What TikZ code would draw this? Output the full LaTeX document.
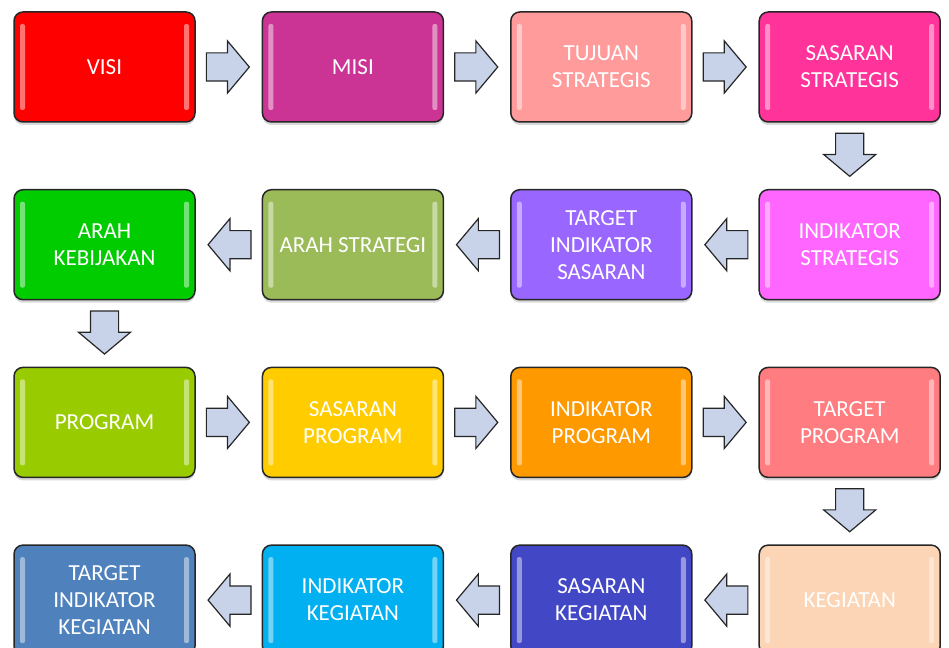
\documentclass[tikz,border=0pt]{standalone}
\usepackage{fontspec}
\setmainfont{Carlito}
\usetikzlibrary{calc}
\usetikzlibrary{shapes.arrows}
\usetikzlibrary{shadows}

\definecolor{cVisi}{HTML}{FF0000}
\definecolor{cMisi}{HTML}{CB3494}
\definecolor{cTujuan}{HTML}{FF9B9B}
\definecolor{cSasStr}{HTML}{FF3399}
\definecolor{cIndStr}{HTML}{FF66FF}
\definecolor{cTarSas}{HTML}{9966FF}
\definecolor{cArahStr}{HTML}{9BBB59}
\definecolor{cArahKeb}{HTML}{00CC00}
\definecolor{cProg}{HTML}{99CC00}
\definecolor{cSasProg}{HTML}{FFCC00}
\definecolor{cIndProg}{HTML}{FF9900}
\definecolor{cTarProg}{HTML}{FF7C80}
\definecolor{cKeg}{HTML}{FBD5B5}
\definecolor{cSasKeg}{HTML}{4247C5}
\definecolor{cIndKeg}{HTML}{00B0F0}
\definecolor{cTarKeg}{HTML}{4F81BD}
\definecolor{arrowfill}{HTML}{C8D3EA}

\begin{document}
\begin{tikzpicture}[x=1pt,y=-1pt,
  box/.style={draw=black!85,line width=1.5pt,rounded corners=9pt,
    minimum width=181pt,minimum height=110pt,text=white,align=center,
    font=\fontsize{23}{27}\selectfont,
    drop shadow={opacity=0.3,shadow xshift=0pt,shadow yshift=-3pt},
    path picture={
      \fill[white,opacity=0.45,rounded corners=2pt]
        ([xshift=6pt,yshift=-12pt]path picture bounding box.north west) rectangle
        ([xshift=11pt,yshift=12pt]path picture bounding box.south west);
      \fill[white,opacity=0.45,rounded corners=2pt]
        ([xshift=-6pt,yshift=-12pt]path picture bounding box.north east) rectangle
        ([xshift=-11pt,yshift=12pt]path picture bounding box.south east);
    }},
  go/.style={single arrow,draw=black!85,line width=1.2pt,fill=arrowfill,
    inner sep=13.5pt,minimum height=43pt,anchor=tail,
    single arrow head extend=12pt,single arrow tip angle=100}]
  % Constants
  \pgfmathsetmacro\ca{104.5}
  \pgfmathsetmacro\cb{352.9}
  \pgfmathsetmacro\cc{601.3}
  \pgfmathsetmacro\cd{849.7}
  \pgfmathsetmacro\ra{67}
  \pgfmathsetmacro\rb{244.7}
  \pgfmathsetmacro\rc{422.4}
  \pgfmathsetmacro\rd{600.1}
  \pgfmathsetmacro\gap{10}
  % Boundary
  \path[use as bounding box] (0,0) rectangle (949,647);
  \clip (0,0) rectangle (949,647);
  % Row one
  \node[box,fill=cVisi] (visi) at (\ca,\ra) {VISI};
  \node[box,fill=cMisi] (misi) at (\cb,\ra) {MISI};
  \node[box,fill=cTujuan] (tujuan) at (\cc,\ra) {TUJUAN\\STRATEGIS};
  \node[box,fill=cSasStr] (sasstr) at (\cd,\ra) {SASARAN\\STRATEGIS};
  % Row two
  \node[box,fill=cIndStr] (indstr) at (\cd,\rb) {INDIKATOR\\STRATEGIS};
  \node[box,fill=cTarSas] (tarsas) at (\cc,\rb) {TARGET\\INDIKATOR\\SASARAN};
  \node[box,fill=cArahStr] (arahstr) at (\cb,\rb) {ARAH STRATEGI};
  \node[box,fill=cArahKeb] (arahkeb) at (\ca,\rb) {ARAH\\KEBIJAKAN};
  % Row three
  \node[box,fill=cProg] (prog) at (\ca,\rc) {PROGRAM};
  \node[box,fill=cSasProg] (sasprog) at (\cb,\rc) {SASARAN\\PROGRAM};
  \node[box,fill=cIndProg] (indprog) at (\cc,\rc) {INDIKATOR\\PROGRAM};
  \node[box,fill=cTarProg] (tarprog) at (\cd,\rc) {TARGET\\PROGRAM};
  % Row four
  \node[box,fill=cKeg] (keg) at (\cd,\rd) {KEGIATAN};
  \node[box,fill=cSasKeg] (saskeg) at (\cc,\rd) {SASARAN\\KEGIATAN};
  \node[box,fill=cIndKeg] (indkeg) at (\cb,\rd) {INDIKATOR\\KEGIATAN};
  \node[box,fill=cTarKeg] (tarkeg) at (\ca,\rd) {TARGET\\INDIKATOR\\KEGIATAN};
  % Block arrows
  \node[go] (ar1) at ($(visi.east)+(\gap,0)$) {};
  \node[go] (ar2) at ($(misi.east)+(\gap,0)$) {};
  \node[go] (ar3) at ($(tujuan.east)+(\gap,0)$) {};
  \node[go,shape border rotate=270] (ar4) at ($(sasstr.south)+(0,\gap)$) {};
  \node[go,shape border rotate=180] (ar5) at ($(indstr.west)-(\gap,0)$) {};
  \node[go,shape border rotate=180] (ar6) at ($(tarsas.west)-(\gap,0)$) {};
  \node[go,shape border rotate=180] (ar7) at ($(arahstr.west)-(\gap,0)$) {};
  \node[go,shape border rotate=270] (ar8) at ($(arahkeb.south)+(0,\gap)$) {};
  \node[go] (ar9) at ($(prog.east)+(\gap,0)$) {};
  \node[go] (ar10) at ($(sasprog.east)+(\gap,0)$) {};
  \node[go] (ar11) at ($(indprog.east)+(\gap,0)$) {};
  \node[go,shape border rotate=270] (ar12) at ($(tarprog.south)+(0,\gap)$) {};
  \node[go,shape border rotate=180] (ar13) at ($(keg.west)-(\gap,0)$) {};
  \node[go,shape border rotate=180] (ar14) at ($(saskeg.west)-(\gap,0)$) {};
  \node[go,shape border rotate=180] (ar15) at ($(indkeg.west)-(\gap,0)$) {};
\end{tikzpicture}
\end{document}
